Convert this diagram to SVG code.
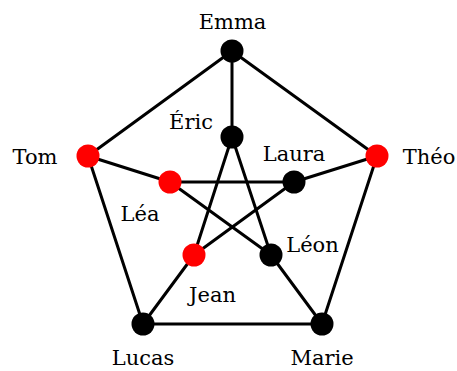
<svg xmlns="http://www.w3.org/2000/svg" width="457" height="371" viewBox="0 0 457 371">
<style>
.e{stroke:#000;stroke-width:3;fill:none;stroke-linecap:round}
.b{fill:#000}
.r{fill:#f00}
text{font-family:"DejaVu Serif","Liberation Serif",serif;font-size:21px;fill:#000;text-anchor:middle}
</style>
<rect width="457" height="371" fill="#fff"/>
<g id="edges">
<line class="e" x1="232" y1="51" x2="377" y2="156"/>
<line class="e" x1="377" y1="156" x2="322" y2="324"/>
<line class="e" x1="322" y1="324" x2="143" y2="324"/>
<line class="e" x1="143" y1="324" x2="88" y2="156"/>
<line class="e" x1="88" y1="156" x2="232" y2="51"/>
<line class="e" x1="232" y1="51" x2="232" y2="137"/>
<line class="e" x1="88" y1="156" x2="170" y2="182"/>
<line class="e" x1="377" y1="156" x2="294" y2="182"/>
<line class="e" x1="143" y1="324" x2="194" y2="255"/>
<line class="e" x1="322" y1="324" x2="271" y2="255"/>
<line class="e" x1="232" y1="137" x2="194" y2="255"/>
<line class="e" x1="232" y1="137" x2="271" y2="255"/>
<line class="e" x1="170" y1="182" x2="294" y2="182"/>
<line class="e" x1="170" y1="182" x2="271" y2="255"/>
<line class="e" x1="194" y1="255" x2="294" y2="182"/>
</g>
<g id="emma"><circle class="b" cx="232" cy="51" r="11.5"/><text x="232.5" y="29">Emma</text></g>
<g id="eric"><circle class="b" cx="232" cy="137" r="11.5"/><text x="191" y="129">Éric</text></g>
<g id="tom"><circle class="r" cx="88" cy="156" r="11.5"/><text x="35" y="164">Tom</text></g>
<g id="lea"><circle class="r" cx="170" cy="182" r="11.5"/><text x="140" y="221">Léa</text></g>
<g id="theo"><circle class="r" cx="377" cy="156" r="11.5"/><text x="429" y="164">Théo</text></g>
<g id="laura"><circle class="b" cx="294" cy="182" r="11.5"/><text x="294" y="161">Laura</text></g>
<g id="jean"><circle class="r" cx="194" cy="255" r="11.5"/><text x="212.5" y="302">Jean</text></g>
<g id="leon"><circle class="b" cx="271" cy="255" r="11.5"/><text x="312.5" y="252">Léon</text></g>
<g id="lucas"><circle class="b" cx="143" cy="324" r="11.5"/><text x="143" y="365">Lucas</text></g>
<g id="marie"><circle class="b" cx="322" cy="324" r="11.5"/><text x="322" y="365">Marie</text></g>
</svg>
